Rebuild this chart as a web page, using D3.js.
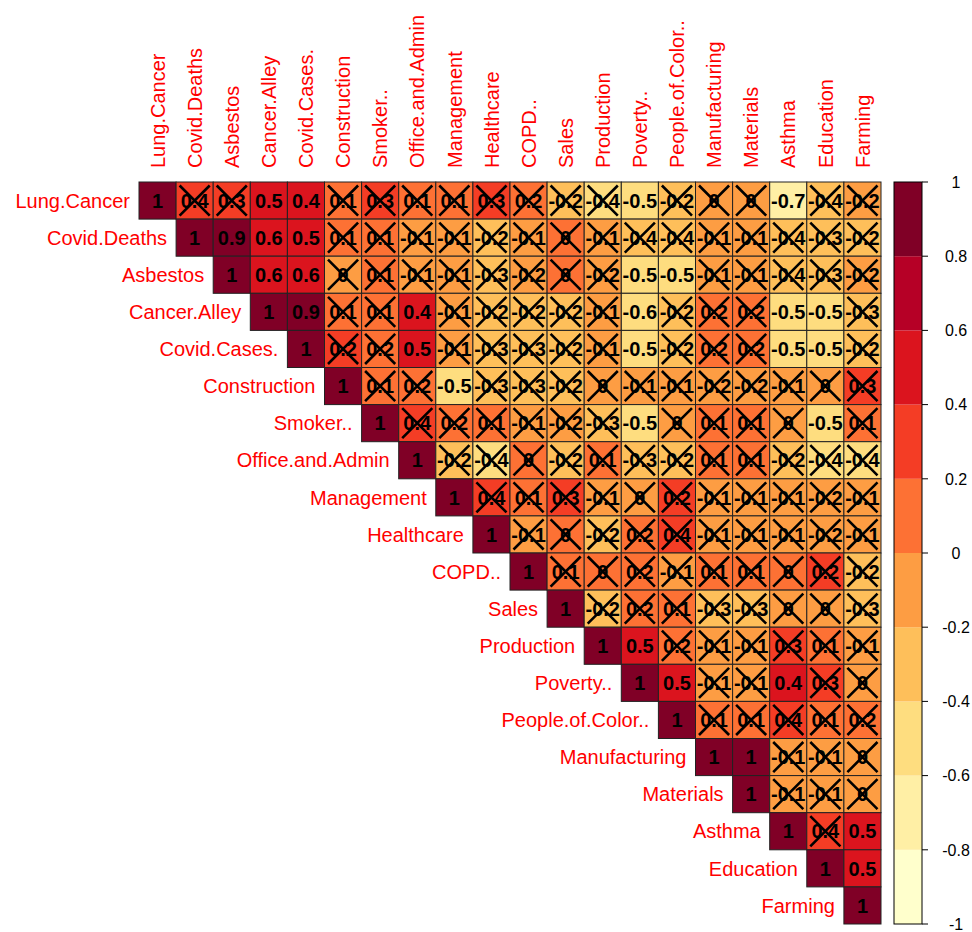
<!DOCTYPE html>
<meta charset="utf-8">

<!-- Load d3.js -->
<script src="https://d3js.org/d3.v7.min.js"></script>

<style>
  body { margin: 0; background: #fff; }
</style>

<!-- Create a div where the graph will take place -->
<div id="my_dataviz"></div>

<script>

// variable names (rows and columns)
var vars = ["Lung.Cancer", "Covid.Deaths", "Asbestos", "Cancer.Alley", "Covid.Cases.",
  "Construction", "Smoker..", "Office.and.Admin", "Management", "Healthcare", "COPD..",
  "Sales", "Production", "Poverty..", "People.of.Color..", "Manufacturing", "Materials",
  "Asthma", "Education", "Farming"];

// upper triangle of the correlation matrix, row i starts at column i
var corr = [
  [1, 0.36, 0.3, 0.5, 0.42, 0.1, 0.28, 0.1, 0.1, 0.3, 0.16, -0.22, -0.42, -0.5, -0.24, -0.03, -0.03, -0.7, -0.36, -0.18],
  [1, 0.9, 0.58, 0.5, 0.1, 0.1, -0.1, -0.1, -0.22, -0.1, 0.03, -0.1, -0.38, -0.36, -0.1, -0.1, -0.38, -0.3, -0.22],
  [1, 0.58, 0.57, -0.03, 0.1, -0.1, -0.1, -0.3, -0.18, 0.04, -0.17, -0.5, -0.5, -0.1, -0.1, -0.37, -0.3, -0.17],
  [1, 0.9, 0.1, 0.1, 0.42, -0.1, -0.22, -0.22, -0.23, -0.1, -0.58, -0.22, 0.18, 0.18, -0.5, -0.5, -0.3],
  [1, 0.22, 0.18, 0.5, -0.1, -0.3, -0.3, -0.22, -0.1, -0.5, -0.22, 0.18, 0.18, -0.5, -0.5, -0.22],
  [1, 0.1, 0.18, -0.47, -0.3, -0.3, -0.22, -0.03, -0.1, -0.1, -0.18, -0.18, -0.1, -0.03, 0.3],
  [1, 0.36, 0.16, 0.1, -0.1, -0.18, -0.3, -0.5, -0.03, 0.1, 0.1, -0.03, -0.5, 0.1],
  [1, -0.22, -0.42, 0.03, -0.22, 0.1, -0.3, -0.22, 0.1, 0.1, -0.22, -0.42, -0.42],
  [1, 0.38, 0.1, 0.3, -0.1, -0.03, 0.22, -0.1, -0.1, -0.1, -0.18, -0.1],
  [1, -0.1, 0.03, -0.22, 0.18, 0.38, -0.1, -0.1, -0.1, -0.18, -0.1],
  [1, 0.1, 0.03, 0.18, -0.1, 0.1, 0.1, 0.02, 0.22, -0.22],
  [1, -0.22, 0.18, 0.1, -0.3, -0.3, -0.02, -0.02, -0.3],
  [1, 0.5, 0.18, -0.1, -0.1, 0.3, 0.1, -0.1],
  [1, 0.5, -0.1, -0.1, 0.42, 0.3, -0.03],
  [1, 0.1, 0.1, 0.38, 0.1, 0.16],
  [1, 1, -0.1, -0.1, -0.03],
  [1, -0.1, -0.1, -0.03],
  [1, 0.38, 0.5],
  [1, 0.5],
  [1]
];

// 1 = not significant (crossed out), same layout as corr
var crossed = [
  "01100111111110111011",
  "0000111111111111111",
  "000111111110011111",
  "00110111110111001",
  "0110111110111001",
  "011011111111111",
  "01111110111101",
  "0111111111111",
  "011111111111",
  "01111111111",
  "0111111111",
  "011111111",
  "00111111",
  "0011011",
  "011111",
  "00111",
  "0111",
  "010",
  "00",
  "0"
];

// colour legend ticks
var legendTicks = [1, 0.8, 0.6, 0.4, 0.2, 0, -0.2, -0.4, -0.6, -0.8, -1];

// page size
var W = 972, H = 932;

var svg = d3.select("#my_dataviz")
  .append("svg")
    .attr("width", W)
    .attr("height", H)
    .style("font-family", "'Liberation Sans', Arial, sans-serif");

// grid scales
var x = d3.scaleBand().domain(vars).range([139, 881]).padding(0);
var y = d3.scaleBand().domain(vars).range([182, 924]).padding(0);

// 10 colours sampled from the 9 class YlOrRd palette, like corrplot
var pal = d3.quantize(d3.piecewise(d3.interpolateRgb, d3.schemeYlOrRd[9]), 10);
var color = d3.scaleQuantize().domain([-1, 1]).range(pal);

// flatten the triangle into cells
var cells = [];
corr.forEach(function(row, i) {
  row.forEach(function(v, k) {
    var j = i + k;
    cells.push({ r: vars[i], c: vars[j], v: v, x: crossed[i][k] === "1" });
  });
});

function fmt(v) {
  var r = Math.round(v * 10) / 10;
  return String(r === 0 ? 0 : r);
}

// cells
var g = svg.append("g");
g.selectAll("rect")
  .data(cells)
  .enter()
  .append("rect")
    .attr("x", function(d) { return x(d.c); })
    .attr("y", function(d) { return y(d.r); })
    .attr("width", x.bandwidth())
    .attr("height", y.bandwidth())
    .attr("fill", function(d) { return color(d.v); })
    .attr("stroke", "#222")
    .attr("stroke-width", 1);

// numbers
g.selectAll("text.num")
  .data(cells)
  .enter()
  .append("text")
    .attr("class", "num")
    .attr("x", function(d) { return x(d.c) + x.bandwidth() / 2; })
    .attr("y", function(d) { return y(d.r) + y.bandwidth() / 2; })
    .attr("dy", "0.36em")
    .attr("text-anchor", "middle")
    .style("font-size", "20px")
    .style("font-weight", "bold")
    .attr("fill", "#000")
    .text(function(d) { return fmt(d.v); });

// crosses on the insignificant cells
var ins = 3.5;
var crossCells = cells.filter(function(d) { return d.x; });
g.selectAll("path.cross")
  .data(crossCells)
  .enter()
  .append("path")
    .attr("class", "cross")
    .attr("d", function(d) {
      var x0 = x(d.c) + ins, y0 = y(d.r) + ins;
      var x1 = x(d.c) + x.bandwidth() - ins, y1 = y(d.r) + y.bandwidth() - ins;
      return "M" + x0 + "," + y0 + "L" + x1 + "," + y1 + "M" + x1 + "," + y0 + "L" + x0 + "," + y1;
    })
    .attr("stroke", "#000")
    .attr("stroke-width", 2.6)
    .attr("fill", "none");

// row labels
svg.selectAll("text.rowlab")
  .data(vars)
  .enter()
  .append("text")
    .attr("class", "rowlab")
    .attr("x", function(d) { return x(d) - 9; })
    .attr("y", function(d) { return y(d) + y.bandwidth() / 2; })
    .attr("dy", "0.36em")
    .attr("text-anchor", "end")
    .style("font-size", "20px")
    .attr("fill", "#ff0000")
    .text(function(d) { return d; });

// column labels
svg.selectAll("text.collab")
  .data(vars)
  .enter()
  .append("text")
    .attr("class", "collab")
    .attr("transform", function(d) {
      return "translate(" + (x(d) + x.bandwidth() / 2) + ",168)rotate(-90)";
    })
    .attr("dy", "0.36em")
    .attr("text-anchor", "start")
    .style("font-size", "20px")
    .attr("fill", "#ff0000")
    .text(function(d) { return d; });

// colour legend
var ly = d3.scaleLinear().domain([-1, 1]).range([924, 182]);
var lx0 = 894, lx1 = 922;
var bins = d3.range(10).map(function(i) { return -1 + i * 0.2; });

svg.selectAll("rect.leg")
  .data(bins)
  .enter()
  .append("rect")
    .attr("class", "leg")
    .attr("x", lx0)
    .attr("y", function(d) { return ly(d + 0.2); })
    .attr("width", lx1 - lx0)
    .attr("height", function(d) { return ly(d) - ly(d + 0.2); })
    .attr("fill", function(d, i) { return pal[i]; });

svg.append("rect")
  .attr("x", lx0)
  .attr("y", 182)
  .attr("width", lx1 - lx0)
  .attr("height", 924 - 182)
  .attr("fill", "none")
  .attr("stroke", "#000")
  .attr("stroke-width", 1);

svg.selectAll("line.tick")
  .data(legendTicks)
  .enter()
  .append("line")
    .attr("class", "tick")
    .attr("x1", lx1)
    .attr("x2", lx1 + 6)
    .attr("y1", function(d) { return ly(d); })
    .attr("y2", function(d) { return ly(d); })
    .attr("stroke", "#000");

svg.selectAll("text.legtxt")
  .data(legendTicks)
  .enter()
  .append("text")
    .attr("class", "legtxt")
    .attr("x", 956)
    .attr("y", function(d) { return ly(d); })
    .attr("dy", "0.36em")
    .attr("text-anchor", "middle")
    .style("font-size", "16px")
    .attr("fill", "#000")
    .text(function(d) { return d; });

</script>
